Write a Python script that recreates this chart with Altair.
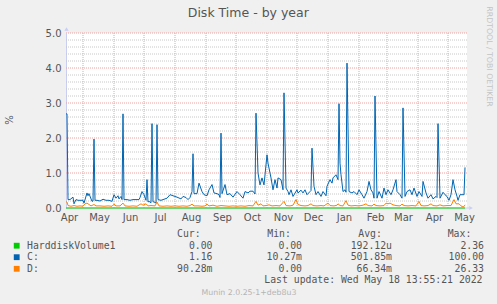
import altair as alt
import pandas as pd

START = "2021-04-14"

# C: (blue)  day offset from START, value in %
c_day = [0, 1, 2, 4, 7, 8, 10, 12, 15, 17, 18, 21, 22, 23, 26, 27, 28, 29, 31, 34, 37, 40, 43, 46, 48, 50,
         52, 53, 55, 56, 57, 58, 61, 64, 67, 70, 73, 74, 76, 78, 80, 81, 82, 83, 85, 86, 87, 89, 90, 91, 92,
         95, 97, 101, 104, 107, 109, 111, 115, 117, 120, 122, 124, 126, 127, 128, 131, 133, 136, 138, 141,
         143, 146, 148, 151, 153, 154, 155, 156, 159, 161, 164, 167, 171, 174, 177, 179, 182, 184, 187, 189,
         190, 192, 194, 196, 198, 201, 202, 205, 207, 209, 211, 212, 215, 217, 218, 220, 222, 223, 225, 227,
         231, 232, 235, 237, 239, 241, 244, 245, 246, 248, 250, 252, 255, 257, 260, 261, 264, 266, 267, 270,
         272, 273, 274, 275, 277, 279, 280, 281, 283, 286, 288, 291, 293, 296, 298, 301, 303, 305, 307, 308,
         309, 311, 313, 316, 318, 320, 322, 325, 327, 330, 331, 334, 336, 337, 339, 341, 344, 346, 348, 351,
         353, 356, 357, 360, 362, 365, 367, 370, 371, 372, 374, 377, 379, 381, 383, 385, 387, 389, 391, 392,
         394, 397, 398, 399]
c_val = [2.69, 2.69, 0.24, 0.24, 0.31, 0.12, 0.24, 0.22, 0.22, 0.22, 0.14, 0.43, 0.35, 0.41, 0.19, 0.20, 1.97,
         0.22, 0.22, 0.20, 0.25, 0.22, 0.22, 0.19, 0.38, 0.28, 0.35, 0.26, 0.33, 0.24, 2.69, 0.24, 0.24, 0.22,
         0.24, 0.24, 0.24, 0.30, 0.47, 0.38, 0.22, 0.81, 0.17, 0.19, 0.15, 2.41, 0.18, 0.16, 0.14, 2.38, 0.24,
         0.22, 0.24, 0.28, 0.38, 0.35, 0.33, 0.31, 0.26, 0.33, 0.30, 0.24, 0.30, 0.47, 1.55, 0.41, 0.41, 0.71,
         0.47, 0.38, 0.35, 0.52, 0.67, 0.43, 0.41, 0.38, 0.30, 2.14, 0.41, 0.67, 0.38, 0.41, 0.31, 0.47, 0.38,
         0.28, 0.47, 0.43, 0.48, 0.48, 0.40, 2.71, 1.00, 0.66, 0.86, 0.66, 1.52, 1.28, 0.86, 0.52, 0.81, 0.57,
         0.86, 0.81, 0.52, 3.29, 0.57, 0.47, 0.38, 0.52, 0.33, 0.52, 0.43, 0.51, 0.43, 0.52, 0.38, 0.47, 0.50,
         1.71, 0.62, 0.38, 0.47, 0.33, 0.47, 0.35, 0.62, 0.81, 0.71, 0.86, 0.95, 0.81, 2.98, 1.28, 0.95, 0.47,
         0.52, 0.45, 4.14, 0.47, 0.43, 0.47, 0.38, 0.52, 0.38, 0.28, 0.47, 0.76, 0.52, 0.43, 0.28, 3.20, 0.28,
         0.47, 0.28, 0.57, 0.38, 0.52, 0.38, 0.52, 0.81, 0.47, 0.38, 0.28, 2.86, 0.33, 0.47, 0.52, 0.38, 0.57,
         0.33, 0.47, 0.33, 0.76, 0.43, 0.28, 0.38, 0.26, 0.33, 0.30, 2.41, 0.28, 0.45, 0.38, 0.33, 0.22, 0.38,
         0.81, 0.52, 0.33, 0.22, 0.38, 0.38, 0.38, 1.16]

# D: (orange)
d_day = [0, 1, 2, 5, 8, 11, 14, 17, 19, 21, 23, 25, 28, 30, 34, 38, 42, 46, 48, 50, 54, 57, 59, 63, 67, 71,
         75, 77, 80, 82, 85, 89, 91, 93, 97, 101, 105, 109, 113, 117, 121, 124, 126, 128, 132, 136, 139, 141,
         143, 147, 151, 155, 159, 163, 167, 171, 175, 179, 183, 187, 190, 192, 195, 197, 200, 203, 206, 210,
         214, 218, 220, 224, 227, 230, 232, 235, 239, 242, 245, 247, 251, 255, 258, 262, 264, 268, 271, 272,
         274, 277, 280, 282, 285, 289, 293, 297, 300, 302, 306, 308, 310, 314, 318, 320, 322, 324, 327, 330,
         334, 336, 338, 342, 346, 350, 353, 355, 358, 362, 365, 367, 371, 374, 377, 381, 385, 388, 390, 393,
         395, 397, 398, 399]
d_val = [0.18, 0.17, 0.07, 0.05, 0.07, 0.05, 0.06, 0.05, 0.12, 0.14, 0.10, 0.06, 0.10, 0.06, 0.06, 0.05, 0.06,
         0.05, 0.11, 0.06, 0.06, 0.14, 0.06, 0.05, 0.06, 0.05, 0.12, 0.08, 0.12, 0.06, 0.07, 0.06, 0.17, 0.06,
         0.05, 0.06, 0.05, 0.06, 0.05, 0.06, 0.05, 0.07, 0.11, 0.06, 0.06, 0.05, 0.06, 0.11, 0.06, 0.08, 0.05,
         0.07, 0.06, 0.05, 0.06, 0.05, 0.06, 0.05, 0.07, 0.06, 0.19, 0.08, 0.12, 0.06, 0.07, 0.09, 0.06, 0.07,
         0.06, 0.19, 0.07, 0.06, 0.08, 0.24, 0.10, 0.07, 0.06, 0.07, 0.12, 0.07, 0.06, 0.07, 0.06, 0.14, 0.07,
         0.06, 0.08, 0.12, 0.07, 0.06, 0.21, 0.08, 0.06, 0.07, 0.06, 0.08, 0.12, 0.07, 0.06, 0.11, 0.07, 0.06,
         0.07, 0.14, 0.12, 0.14, 0.09, 0.07, 0.06, 0.11, 0.07, 0.06, 0.07, 0.06, 0.19, 0.07, 0.06, 0.07, 0.12,
         0.07, 0.06, 0.09, 0.06, 0.07, 0.07, 0.24, 0.12, 0.12, 0.06, 0.03, 0.04, 0.09]

# HarddiskVolume1 (green)
hv_day = [0, 399]
hv_val = [0.0, 0.0]

series_names = ["HarddiskVolume1", "C:", "D:"]
series_colors = ["#00CC00", "#0066B3", "#FF8000"]
cur_vals = ["0.00", "1.16", "90.28m"]
min_vals = ["0.00", "10.27m", "0.00"]
avg_vals = ["192.12u", "501.85m", "66.34m"]
max_vals = ["2.36", "100.00", "26.33"]
headers = ["Cur:", "Min:", "Avg:", "Max:"]

month_starts = ["2021-04-01", "2021-05-01", "2021-06-01", "2021-07-01", "2021-08-01", "2021-09-01",
                "2021-10-01", "2021-11-01", "2021-12-01", "2022-01-01", "2022-02-01", "2022-03-01",
                "2022-04-01", "2022-05-01"]
y_labels = [0, 1, 2, 3, 4, 5]
y_major = [1, 2, 3, 4, 5]
y_minor = [0.2, 0.4, 0.6, 0.8, 1.2, 1.4, 1.6, 1.8, 2.2, 2.4, 2.6, 2.8, 3.2, 3.4, 3.6, 3.8,
           4.2, 4.4, 4.6, 4.8]

title_text = "Disk Time - by year"
y_title = "%"
side_text = "RRDTOOL / TOBI OETIKER"
update_text = "Last update: Wed May 18 13:55:21 2022"
version_text = "Munin 2.0.25-1+deb8u3"

W, H = 401, 175
TXT = "#555555"
GRID_MAJOR = "#F2A0A0"
GRID_MINOR = "#C8C8C8"
AXIS_COL = "#C8CEF4"

start = pd.Timestamp(START)


def frame(days, vals):
    return pd.DataFrame({"date": start + pd.to_timedelta(days, unit="D"), "v": vals})


xscale = alt.Scale(domain=[alt.DateTime(year=2021, month=4, date=14),
                           alt.DateTime(year=2022, month=5, date=20)])
label_dates = [pd.Timestamp(m) + pd.Timedelta(days=16) for m in month_starts]
label_dt = [alt.DateTime(year=d.year, month=d.month, date=d.day) for d in label_dates]

x_enc = alt.X("date:T", scale=xscale,
              axis=alt.Axis(values=label_dt, format="%b", grid=False, ticks=False, domain=False,
                            labelPadding=4, labelFont="DejaVu Sans", labelFontSize=10,
                            labelColor=TXT, labelFlush=False, labelOverlap=False, title=None))
y_enc = alt.Y("v:Q", scale=alt.Scale(domain=[0, 5], nice=False),
              axis=alt.Axis(values=y_labels, format=".1f", grid=False, ticks=False, domain=True,
                            domainColor=AXIS_COL, labelPadding=5, labelFont="DejaVu Sans",
                            labelFontSize=10, labelColor=TXT, title=None))

minor = alt.Chart(pd.DataFrame({"v": y_minor})).mark_rule(
    color=GRID_MINOR, strokeDash=[1, 1], strokeWidth=1).encode(
    y=y_enc, x=alt.value(0), x2=alt.value(W))
major = alt.Chart(pd.DataFrame({"v": y_major})).mark_rule(
    color=GRID_MAJOR, strokeDash=[1, 1], strokeWidth=1).encode(
    y=y_enc, x=alt.value(0), x2=alt.value(W))
mdf = pd.DataFrame({"date": pd.to_datetime(month_starts[1:])})
vgrid = alt.Chart(mdf).mark_rule(color=GRID_MAJOR, strokeDash=[1, 1], strokeWidth=1).encode(
    x=x_enc, y=alt.value(0), y2=alt.value(H))

bottom_axis = alt.Chart(pd.DataFrame({"v": [0]})).mark_rule(color=AXIS_COL).encode(
    y=y_enc, x=alt.value(0), x2=alt.value(W + 2))

lines = []
for (dd, vv), col in zip([(hv_day, hv_val), (c_day, c_val), (d_day, d_val)], series_colors):
    lines.append(alt.Chart(frame(dd, vv)).mark_line(color=col, strokeWidth=1, interpolate="linear")
                 .encode(x=x_enc, y=y_enc))

arrow_up = alt.Chart(pd.DataFrame({"a": [0]})).mark_point(
    shape="triangle-up", filled=True, color=AXIS_COL, size=18, opacity=1).encode(
    x=alt.value(0.5), y=alt.value(-4))
arrow_right = alt.Chart(pd.DataFrame({"a": [0]})).mark_point(
    shape="triangle-right", filled=True, color=AXIS_COL, size=18, opacity=1).encode(
    x=alt.value(W + 4), y=alt.value(H))


def txt(s, x, y, align="left", font="DejaVu Sans Mono", size=9.8, color=TXT, angle=0):
    return alt.Chart(pd.DataFrame({"t": [s]})).mark_text(
        align=align, baseline="middle", font=font, fontSize=size, color=color, angle=angle).encode(
        x=alt.value(x), y=alt.value(y), text="t:N")


def fmt(s):
    return s if s[-1].isalpha() else s + "\u00a0"


texts = [
    txt(title_text, 182.3, -20, align="center", font="DejaVu Sans", size=12.5),
    txt(y_title, -56, 87, align="center", font="DejaVu Sans", size=10, angle=270),
    txt(side_text, 423, 23.5, align="center", font="DejaVu Sans", size=7.8, color="#C4C4C4", angle=90),
]
header_x = [111, 201.3, 292.3, 381.7]
for h, hx in zip(headers, header_x):
    texts.append(txt(h, hx, 201))

row_y = [212.7, 224.2, 235.8]
col_end = [146.5, 236, 326, 418]
squares = []
for i, name in enumerate(series_names):
    squares.append(alt.Chart(pd.DataFrame({"a": [0]})).mark_square(
        color=series_colors[i], size=34, opacity=1).encode(x=alt.value(-49.3), y=alt.value(row_y[i])))
    texts.append(txt(name, -39, row_y[i]))
    for vals, cx in zip([cur_vals, min_vals, avg_vals, max_vals], col_end):
        texts.append(txt(fmt(vals[i]), cx, row_y[i], align="right"))

texts.append(txt(update_text, 416.5, 247.3, align="right"))
texts.append(txt(version_text, 183, 259.8, align="center", font="DejaVu Sans", size=7.8, color="#B4B4B4"))

chart = alt.layer(minor, major, vgrid, bottom_axis, *lines, arrow_up, arrow_right, *squares, *texts).properties(
    width=W, height=H, background="#F0F0F0",
    autosize=alt.AutoSizeParams(type="none"),
    padding={"left": 66, "top": 33, "right": 30, "bottom": 96},
).configure_view(fill="white", strokeWidth=0)

chart.save("out.html", embed_options={"renderer": "svg", "actions": False})
